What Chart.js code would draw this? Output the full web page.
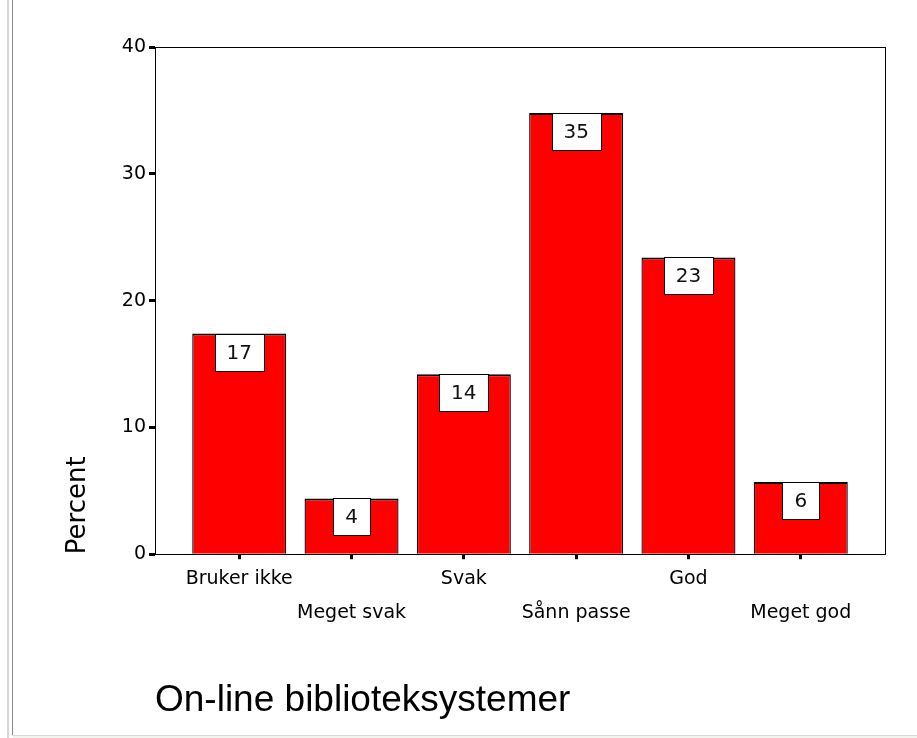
<!DOCTYPE html>
<html>
<head>
<meta charset="utf-8">
<title>On-line biblioteksystemer</title>
<script src="https://cdn.jsdelivr.net/npm/chart.js@4"></script>
<style>
  html, body { margin: 0; padding: 0; background: #fff; }
  #wrap { position: relative; width: 917px; height: 738px; overflow: hidden; }
  #chart { position: absolute; left: 0; top: 0; }
  .edge { position: absolute; }
</style>
</head>
<body>
<div id="wrap">
  <canvas id="chart" width="917" height="738"></canvas>
  <div class="edge" style="left:7px;top:0;width:2px;height:738px;background:#d6d6d6"></div>
  <div class="edge" style="left:12px;top:0;width:1px;height:735px;background:#8a8a8a"></div>
  <div class="edge" style="left:12px;top:735px;width:905px;height:1px;background:#d8d8d8"></div>
  <div class="edge" style="left:13px;top:736px;width:904px;height:2px;background:#f3f3f0"></div>
</div>
<script>
const categories = ['Bruker ikke', 'Meget svak', 'Svak', 'Sånn passe', 'God', 'Meget god'];
const percent = [17.4, 4.4, 14.2, 34.8, 23.4, 5.7];
const yTicks = [0, 10, 20, 30, 40];

const tickFont = { family: 'DejaVu Sans', size: 19, lineHeight: 1.8 };

// frame round the plot area (top and right sides)
const frame = {
  id: 'frame',
  afterDraw(chart) {
    const { ctx, chartArea: a } = chart;
    ctx.save();
    ctx.strokeStyle = '#000';
    ctx.lineWidth = 1;
    ctx.strokeRect(Math.round(a.left) + 0.5, Math.round(a.top) + 0.5,
      Math.round(a.right - a.left), Math.round(a.bottom - a.top));
    ctx.restore();
  }
};

// white value boxes hanging from the top of each bar
const valueBoxes = {
  id: 'valueBoxes',
  afterDatasetsDraw(chart) {
    const ctx = chart.ctx;
    const meta = chart.getDatasetMeta(0);
    ctx.save();
    ctx.font = '20px "DejaVu Sans"';
    ctx.textAlign = 'center';
    ctx.textBaseline = 'middle';
    meta.data.forEach((bar, i) => {
      const txt = String(Math.round(percent[i]));
      const w = Math.round(ctx.measureText(txt).width + 24);
      const h = 37;
      const x = Math.round(bar.x - w / 2) + 0.5;
      const y = Math.round(bar.y) + 0.5;
      ctx.fillStyle = '#fff';
      ctx.fillRect(x, y, w, h);
      ctx.strokeStyle = '#000';
      ctx.lineWidth = 1;
      ctx.strokeRect(x, y, w, h);
      ctx.fillStyle = '#111';
      ctx.fillText(txt, bar.x, y + h / 2 + 1);
    });
    ctx.restore();
  }
};

new Chart(document.getElementById('chart'), {
  type: 'bar',
  data: {
    datasets: [{
      data: percent.map((v, i) => ({ x: i, y: v })),
      backgroundColor: '#ff0000',
      borderColor: '#000',
      borderWidth: { top: 2, left: 1.3, right: 1.3, bottom: 0 },
      borderSkipped: 'start',
      categoryPercentage: 1,
      barPercentage: 0.837
    }]
  },
  options: {
    responsive: false,
    animation: false,
    devicePixelRatio: 1,
    layout: { padding: { top: 47, right: 32, bottom: 15, left: 0 } },
    plugins: { legend: { display: false }, tooltip: { enabled: false } },
    scales: {
      x: {
        type: 'linear',
        min: -0.75,
        max: 5.75,
        offset: false,
        grid: { offset: false, drawOnChartArea: false, tickLength: 5, tickWidth: 3, tickColor: '#000' },
        border: { color: '#000', width: 1 },
        ticks: {
          stepSize: 1,
          includeBounds: false,
          autoSkip: false,
          maxRotation: 0,
          color: '#000',
          font: tickFont,
          padding: 3,
          callback: (v) => {
            if (!Number.isInteger(v) || v < 0 || v >= categories.length) return '';
            return v % 2 === 0 ? [categories[v], ''] : ['', categories[v]];
          }
        },
        title: {
          display: true,
          text: 'On-line biblioteksystemer',
          align: 'start',
          color: '#000',
          font: { family: 'Liberation Sans', size: 37 },
          padding: { top: 45, bottom: 0 }
        }
      },
      y: {
        min: 0,
        max: 40,
        afterBuildTicks: (s) => { s.ticks = yTicks.map(v => ({ value: v })); },
        afterFit: (s) => { s.width = 155; },
        grid: { drawOnChartArea: false, tickLength: 6, tickWidth: 3, tickColor: '#000' },
        border: { color: '#000', width: 1 },
        ticks: { color: '#000', font: { family: 'DejaVu Sans', size: 19 }, padding: 3 },
        title: {
          display: true,
          text: 'Percent',
          align: 'start',
          color: '#000',
          font: { family: 'DejaVu Sans', size: 26 },
          padding: { top: 63, bottom: 0 }
        }
      }
    }
  },
  plugins: [frame, valueBoxes]
});
</script>
</body>
</html>
